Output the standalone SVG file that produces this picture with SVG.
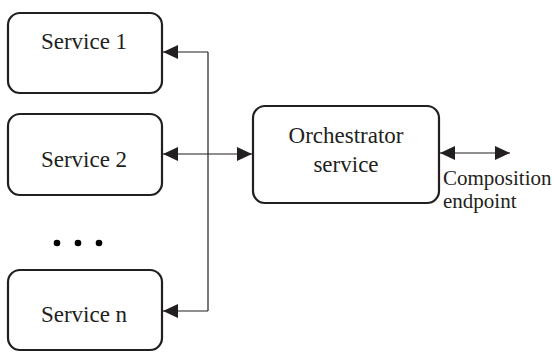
<svg xmlns="http://www.w3.org/2000/svg" width="553" height="352" viewBox="0 0 553 352">
<style>
.box{fill:#fff;stroke:#231f20;stroke-width:2.2}
.t{font-family:"Liberation Serif","Times New Roman",serif;font-size:23px;fill:#231f20;text-anchor:middle}
.s{font-family:"Liberation Serif","Times New Roman",serif;font-size:21px;fill:#231f20}
.c{fill:none;stroke:#231f20;stroke-width:1.2}
</style>
<defs>
<marker id="ah" viewBox="0 0 15 14" refX="15" refY="7" markerWidth="15" markerHeight="14" markerUnits="userSpaceOnUse" orient="auto-start-reverse">
<path d="M0,0 L15,7 L0,14 Z" fill="#231f20"/>
</marker>
</defs>
<g id="service1"><rect class="box" x="8" y="13" width="154" height="80" rx="12"/><text class="t" x="84" y="49">Service 1</text></g>
<g id="service2"><rect class="box" x="8" y="114" width="154" height="81" rx="12"/><text class="t" x="84" y="167">Service 2</text></g>
<g id="dots" fill="#000"><circle cx="57" cy="243" r="3.3"/><circle cx="78" cy="243" r="3.3"/><circle cx="99" cy="243" r="3.3"/></g>
<g id="servicen"><rect class="box" x="8" y="270" width="154" height="80" rx="12"/><text class="t" x="84" y="322">Service n</text></g>
<g id="orchestrator"><rect class="box" x="253" y="106" width="186" height="97" rx="12"/><text class="t" x="346" y="143">Orchestrator</text><text class="t" x="346" y="172">service</text></g>
<g id="connectors">
<path class="c" d="M208,52 H163" marker-end="url(#ah)"/>
<path class="c" d="M208,311 H163" marker-end="url(#ah)"/>
<path class="c" d="M208,52 V311"/>
<path class="c" d="M163,154 H252" marker-start="url(#ah)" marker-end="url(#ah)"/>
<path class="c" d="M440,153 H510" marker-start="url(#ah)" marker-end="url(#ah)"/>
</g>
<g id="label"><text class="s" x="443" y="185">Composition</text><text class="s" x="443" y="208">endpoint</text></g>
</svg>
